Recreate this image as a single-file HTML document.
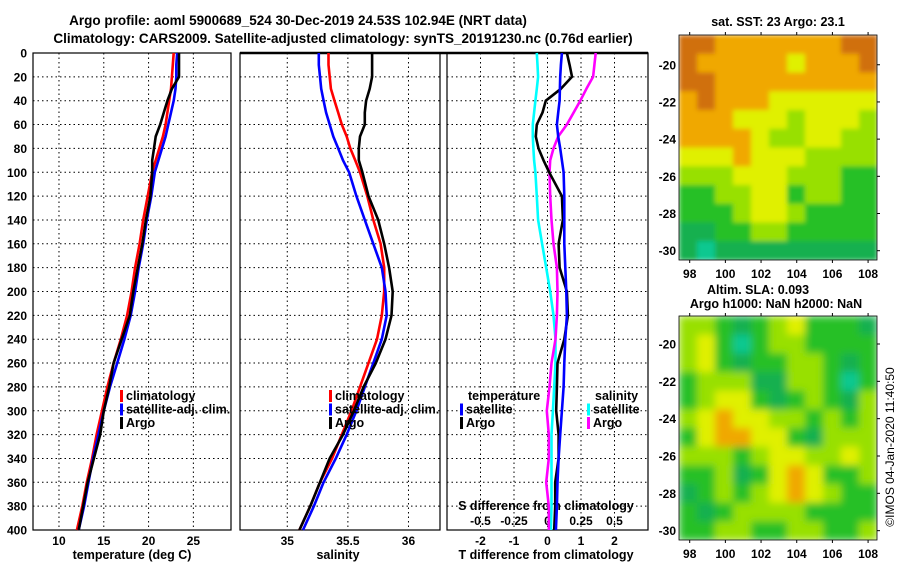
<!DOCTYPE html>
<html><head><meta charset="utf-8">
<style>
body{margin:0;background:#fff;width:900px;height:580px;overflow:hidden}
svg{display:block;font-family:"Liberation Sans",Arial,sans-serif;font-weight:bold}
</style></head>
<body>
<svg id="chart" width="900" height="580" viewBox="0 0 900 580">
<defs>
<filter id="blurS" x="0" y="0" width="1" height="1"><feGaussianBlur stdDeviation="2.5"/></filter>
<filter id="blurL" x="0" y="0" width="1" height="1"><feGaussianBlur stdDeviation="4"/></filter>
<clipPath id="clipSST"><rect x="679" y="35" width="198" height="225"/></clipPath>
<clipPath id="clipSLA"><rect x="679" y="316" width="198" height="224"/></clipPath>
</defs>
<text x="298" y="25" text-anchor="middle" font-size="13.5">Argo profile: aoml 5900689_524 30-Dec-2019 24.53S 102.94E (NRT data)</text>
<text x="343" y="43" text-anchor="middle" font-size="13.5">Climatology: CARS2009. Satellite-adjusted climatology: synTS_20191230.nc (0.76d earlier)</text>
<text x="778" y="26" text-anchor="middle" font-size="12.5">sat. SST: 23 Argo: 23.1</text>
<text x="758" y="294" text-anchor="middle" font-size="12.5">Altim. SLA: 0.093</text>
<text x="776" y="308" text-anchor="middle" font-size="12.5">Argo h1000: NaN h2000: NaN</text>
<text transform="translate(894,447) rotate(-90)" text-anchor="middle" font-size="12" font-weight="normal">©IMOS 04-Jan-2020 11:40:50</text>
</svg>
<script>
// ---- data ----
const depths = [0,10,20,30,40,50,60,70,80,90,100,120,140,160,180,200,220,240,260,280,300,320,340,360,380,400];
const tempClim = [22.8,22.7,22.6,22.5,22.3,22.1,21.9,21.6,21.2,20.8,20.4,19.9,19.4,19.0,18.5,18.1,17.6,16.9,16.1,15.4,14.8,14.2,13.7,13.1,12.6,12.0];
const tempSat  = [23.2,23.1,23.1,23.0,22.8,22.5,22.2,21.9,21.5,21.1,20.7,20.3,19.8,19.4,18.9,18.5,18.0,17.3,16.5,15.7,15.0,14.4,13.8,13.3,12.8,12.2];
const tempArgo = [23.4,23.4,23.4,22.6,22.1,21.7,21.3,20.8,20.6,20.4,20.4,20.2,19.7,19.3,18.8,18.3,17.9,17.0,16.1,15.6,15.0,14.6,13.9,13.2,12.7,12.2];
const salClim = [35.34,35.34,35.35,35.36,35.39,35.42,35.45,35.49,35.52,35.56,35.60,35.66,35.71,35.77,35.80,35.80,35.78,35.74,35.67,35.60,35.53,35.45,35.37,35.27,35.19,35.10];
const salSat  = [35.26,35.26,35.27,35.28,35.30,35.32,35.35,35.38,35.42,35.46,35.51,35.57,35.64,35.71,35.78,35.81,35.82,35.78,35.71,35.64,35.57,35.49,35.40,35.30,35.22,35.13];
const salArgo = [35.70,35.70,35.70,35.68,35.65,35.64,35.64,35.60,35.59,35.59,35.62,35.67,35.75,35.80,35.84,35.87,35.86,35.81,35.73,35.63,35.55,35.46,35.35,35.27,35.19,35.10];
const dTsat  = [0.43,0.40,0.38,0.37,0.36,0.32,0.28,0.32,0.38,0.43,0.48,0.50,0.50,0.50,0.53,0.56,0.58,0.53,0.50,0.48,0.43,0.38,0.33,0.30,0.28,0.25];
const dTargo = [0.58,0.66,0.73,0.40,-0.05,-0.15,-0.32,-0.35,-0.27,-0.12,0.05,0.43,0.46,0.33,0.36,0.58,0.61,0.50,0.30,0.28,0.26,0.33,0.33,0.23,0.23,0.20];
const dSsat  = [-0.08,-0.075,-0.07,-0.08,-0.09,-0.10,-0.11,-0.11,-0.105,-0.10,-0.09,-0.08,-0.07,-0.04,-0.01,0.02,0.045,0.06,0.06,0.05,0.04,0.03,0.03,0.03,0.03,0.025];
const dSargo = [0.36,0.35,0.34,0.29,0.245,0.195,0.145,0.08,0.045,0.02,0.015,0.02,0.03,0.045,0.07,0.075,0.07,0.06,0.03,0.015,-0.005,0.01,0.01,-0.01,0.01,0.01];
const depthTicks = [0,20,40,60,80,100,120,140,160,180,200,220,240,260,280,300,320,340,360,380,400];
const tempTicks = [10,15,20,25];
const salTicks = [35,35.5,36];
const salTickLabels = ["35","35.5","36"];
const dTTicks = [-2,-1,0,1,2];
const dSTicks = [-0.5,-0.25,0,0.25,0.5];
const dSTickLabels = ["-0.5","-0.25","0","0.25","0.5"];
const mapLonTicks = [98,100,102,104,106,108];
const mapLatTicks = [-20,-22,-24,-26,-28,-30];
const sstGrid = [
 [6,6,5,5,5,5,5,5,5,6,6],
 [6,5,5,5,5,5,4,5,5,5,6],
 [6,6,5,5,5,5,5,5,5,5,5],
 [5,6,5,5,5,4,4,4,4,4,4],
 [5,5,5,4,4,4,3,4,4,4,3],
 [5,5,5,5,4,3,3,4,4,3,3],
 [4,4,4,5,4,4,4,3,3,3,3],
 [3,3,3,4,4,4,3,3,3,2,2],
 [2,2,3,3,4,4,2,3,3,2,2],
 [2,2,2,3,4,4,3,2,2,2,2],
 [1,1,2,2,3,3,2,2,2,2,2],
 [1,0,1,1,1,1,1,1,1,1,1]];
const slaGrid = [
 [3,3,2,1,2,3,4,2,2,2,1],
 [3,4,2,0,2,3,3,2,2,2,2],
 [3,4,2,1,2,2,3,3,2,1,2],
 [2,3,3,3,1,1,3,3,2,0,2],
 [2,3,4,4,2,1,2,3,2,1,3],
 [3,4,5,4,4,3,3,2,3,2,3],
 [2,4,5,5,4,4,2,1,3,3,3],
 [3,3,3,2,3,4,4,3,3,4,3],
 [2,2,3,1,2,4,5,4,2,2,3],
 [1,2,3,2,3,4,5,4,3,2,2],
 [2,1,2,3,3,3,3,2,2,2,2],
 [2,2,3,3,2,2,3,3,2,2,3]];
const palette = ["#10c890","#12b050","#28c028","#98e000","#e0f000","#f0a800","#d07010"];

const svg = document.getElementById('chart');
const NS = 'http://www.w3.org/2000/svg';
function mk(tag, attrs, parent){const e=document.createElementNS(NS,tag);for(const k in attrs)e.setAttribute(k,attrs[k]);(parent||svg).appendChild(e);return e;}

const Y0=53, Y1=530;
const yD = d => Y0 + (d/400)*(Y1-Y0);
function lin(d0,d1,r0,r1){return v=>r0+(v-d0)/(d1-d0)*(r1-r0);}

const panels = [
 {name:'temperature-panel', x0:33, x1:231, dom:[7.1,29.2]},
 {name:'salinity-panel', x0:240, x1:440, dom:[34.61,36.26]},
 {name:'difference-panel', x0:447, x1:648, dom:[-3,3]}
];
panels.forEach(p=>{p.sx=lin(p.dom[0],p.dom[1],p.x0,p.x1);});
const xT=panels[0].sx, xS=panels[1].sx, xDT=panels[2].sx, xDS=lin(-0.75,0.75,447,648);

function grid(p, ticks, sx){
  const g=mk('g',{});
  
  
  depthTicks.forEach(d=>{mk('line',{x1:p.x0,x2:p.x1,y1:yD(d),y2:yD(d),stroke:'#000','stroke-width':1,'stroke-dasharray':'1.5,3'},g);});
  ticks.forEach(t=>{mk('line',{x1:sx(t),x2:sx(t),y1:Y0,y2:Y1,stroke:'#000','stroke-width':1,'stroke-dasharray':'1.5,3'},g);});
  const b=mk('rect',{x:p.x0,y:Y0,width:p.x1-p.x0,height:Y1-Y0,fill:'none',stroke:'#000','stroke-width':1.2});
  
  
}
grid(panels[0],tempTicks,xT);
grid(panels[1],salTicks,xS);
grid(panels[2],dTTicks,xDT);
mk('line',{x1:240,x2:648,y1:Y0,y2:Y0,stroke:'#000','stroke-width':2.5});

function txt(x,y,s,size,anchor,name,fill){const t=mk('text',{x:x,y:y,'font-size':size,'text-anchor':anchor||'middle',fill:fill||'#000'});t.textContent=s;return t;}

depthTicks.forEach(d=>txt(27,yD(d)+4.5,String(d),12,'end','depth-tick-label'));
tempTicks.forEach(t=>txt(xT(t),545,String(t),12,'middle','temperature-tick-label'));
salTicks.forEach((t,i)=>txt(xS(t),545,salTickLabels[i],12,'middle','salinity-tick-label'));
dTTicks.forEach(t=>txt(xDT(t),545,String(t),12,'middle','t-diff-tick-label'));
dSTicks.forEach((t,i)=>txt(xDS(t),525,dSTickLabels[i],12,'middle','s-diff-tick-label'));
txt(132,559,'temperature (deg C)',12.5,'middle','temperature-axis-title');
txt(338,559,'salinity',12.5,'middle','salinity-axis-title');
txt(546,559,'T difference from climatology',12.5,'middle','t-diff-axis-title');
txt(546,510,'S difference from climatology',12.5,'middle','s-diff-axis-title');

function line(vals, sx, color, name){
  const pts=vals.map((v,i)=>sx(v).toFixed(1)+','+yD(depths[i]).toFixed(1)).join(' ');
  const l=mk('polyline',{points:pts,fill:'none',stroke:color,'stroke-width':2.6,'stroke-linejoin':'round'});
  
  
}
line(tempClim,xT,'#f00','temperature-climatology-line');
line(tempSat,xT,'#00f','temperature-satellite-line');
line(tempArgo,xT,'#000','temperature-argo-line');
line(salClim,xS,'#f00','salinity-climatology-line');
line(salSat,xS,'#00f','salinity-satellite-line');
line(salArgo,xS,'#000','salinity-argo-line');
line(dSsat,xDS,'#0ff','s-diff-satellite-line');
line(dSargo,xDS,'#f0f','s-diff-argo-line');
line(dTargo,xDT,'#000','t-diff-argo-line');
line(dTsat,xDT,'#00f','t-diff-satellite-line');

function legend(x,y,color,label,name){
  const r=mk('rect',{x:x,y:y-10,width:3,height:12,fill:color});
  
  
  txt(x+6,y,label,12.5,'start',name);
}
[[120,'#f00','climatology'],[120,'#00f','satellite-adj. clim.'],[120,'#000','Argo']].forEach((e,i)=>legend(e[0],400+i*13.5,e[1],e[2],'legend-entry'));
[[329,'#f00','climatology'],[329,'#00f','satellite-adj. clim.'],[329,'#000','Argo']].forEach((e,i)=>legend(e[0],400+i*13.5,e[1],e[2],'legend-entry'));
txt(468,400,'temperature',12.5,'start','legend-temperature-header');
legend(460,413.5,'#00f','satellite','legend-entry');
legend(460,427,'#000','Argo','legend-entry');
txt(595,400,'salinity',12.5,'start','legend-salinity-header');
legend(587,413.5,'#0ff','satellite','legend-entry');
legend(587,427,'#f0f','Argo','legend-entry');

// maps
function map(gridData, top, bottom, latTop, latBot, name, clip, blur){
  const X0=679, X1=877;
  const lon=lin(97.4,108.5,X0,X1), lat=lin(latTop,latBot,top,bottom);
  const outer=mk('g',{'clip-path':'url(#'+clip+')'});
  
  
  const g=mk('g',{filter:'url(#'+blur+')'},outer);
  const rows=gridData.length, cols=gridData[0].length;
  const cw=(X1-X0)/cols, ch=(bottom-top)/rows;
  mk('rect',{x:X0,y:top,width:X1-X0,height:bottom-top,fill:palette[2]},g);
  gridData.forEach((row,r)=>row.forEach((v,c)=>{
    const cell=mk('rect',{x:(X0+c*cw).toFixed(2),y:(top+r*ch).toFixed(2),width:(cw+0.6).toFixed(2),height:(ch+0.6).toFixed(2),fill:palette[v]},g);
    
    
  }));
  mk('rect',{x:X0,y:top,width:X1-X0,height:bottom-top,fill:'none',stroke:'#000','stroke-width':0.8});
  mapLonTicks.forEach(t=>{
    mk('line',{x1:lon(t),x2:lon(t),y1:top-3,y2:top,stroke:'#000'});
    mk('line',{x1:lon(t),x2:lon(t),y1:bottom,y2:bottom+3,stroke:'#000'});
    txt(lon(t),bottom+18,String(t),12,'middle','map-lon-tick-label');
  });
  mapLatTicks.forEach(t=>{
    mk('line',{x1:X1,x2:X1+3,y1:lat(t),y2:lat(t),stroke:'#000'});
    txt(676,lat(t)+4.5,String(t),12,'end','map-lat-tick-label');
  });
}
map(sstGrid,35,260,-18.4,-30.5,'sst-map','clipSST','blurS');
map(slaGrid,316,540,-18.5,-30.5,'sla-map','clipSLA','blurL');
</script>
</body></html>
